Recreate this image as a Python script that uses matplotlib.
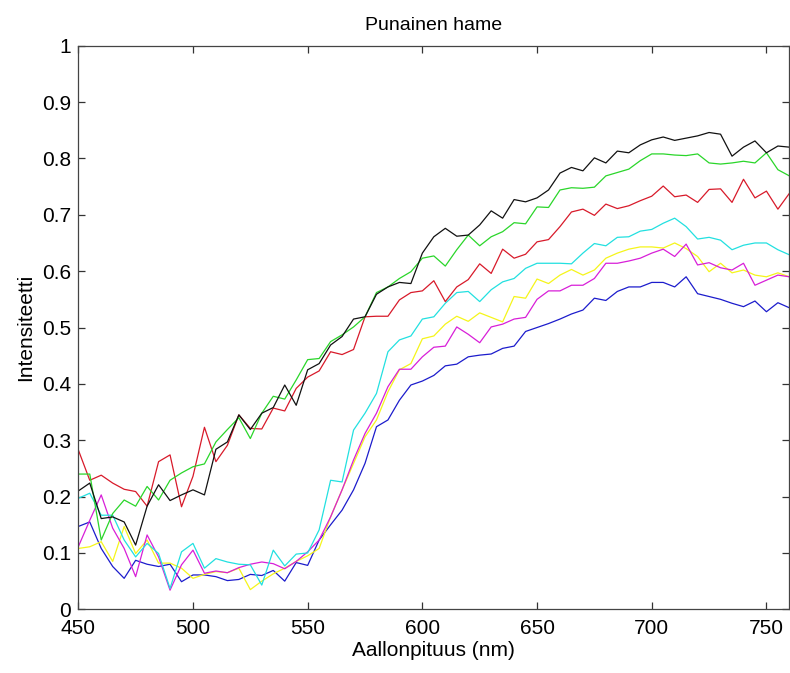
import numpy as np
import matplotlib
matplotlib.use("Agg")
import matplotlib.pyplot as plt

wavelength = list(range(450, 761, 5))

black = [0.21, 0.224, 0.161, 0.164, 0.155, 0.114, 0.183, 0.221, 0.193, 0.203, 0.212, 0.203, 0.284, 0.297, 0.345, 0.319,
         0.348, 0.358, 0.398, 0.362, 0.425, 0.436, 0.469, 0.484, 0.515, 0.519, 0.559, 0.572, 0.58, 0.578, 0.632, 0.661,
         0.676, 0.662, 0.664, 0.682, 0.707, 0.694, 0.727, 0.723, 0.73, 0.744, 0.774, 0.784, 0.778, 0.801, 0.792, 0.813,
         0.81, 0.824, 0.833, 0.838, 0.832, 0.836, 0.84, 0.846, 0.843, 0.804, 0.82, 0.831, 0.81, 0.822, 0.82]
green = [0.24, 0.24, 0.123, 0.17, 0.194, 0.183, 0.218, 0.194, 0.229, 0.242, 0.253, 0.258, 0.297, 0.319, 0.34, 0.303,
         0.348, 0.378, 0.373, 0.407, 0.443, 0.445, 0.475, 0.487, 0.501, 0.519, 0.562, 0.572, 0.587, 0.599, 0.623, 0.627,
         0.609, 0.638, 0.664, 0.645, 0.661, 0.67, 0.686, 0.684, 0.714, 0.713, 0.744, 0.748, 0.747, 0.749, 0.769, 0.775,
         0.781, 0.796, 0.808, 0.808, 0.806, 0.805, 0.808, 0.792, 0.79, 0.792, 0.795, 0.792, 0.81, 0.78, 0.769]
red = [0.283, 0.229, 0.238, 0.224, 0.213, 0.209, 0.183, 0.262, 0.274, 0.182, 0.236, 0.323, 0.262, 0.291, 0.345, 0.321,
       0.32, 0.357, 0.352, 0.392, 0.412, 0.423, 0.457, 0.452, 0.461, 0.519, 0.52, 0.52, 0.549, 0.562, 0.565, 0.583,
       0.546, 0.572, 0.585, 0.613, 0.596, 0.639, 0.623, 0.63, 0.652, 0.656, 0.679, 0.705, 0.71, 0.699, 0.719, 0.711,
       0.716, 0.725, 0.733, 0.751, 0.732, 0.735, 0.722, 0.745, 0.746, 0.722, 0.763, 0.73, 0.742, 0.71, 0.738]
cyan = [0.197, 0.206, 0.167, 0.167, 0.123, 0.093, 0.117, 0.099, 0.037, 0.102, 0.117, 0.073, 0.09, 0.084, 0.08, 0.079,
        0.043, 0.105, 0.077, 0.098, 0.1, 0.141, 0.229, 0.226, 0.318, 0.348, 0.383, 0.457, 0.478, 0.485, 0.515, 0.519,
        0.543, 0.562, 0.564, 0.546, 0.567, 0.581, 0.587, 0.605, 0.614, 0.614, 0.614, 0.613, 0.632, 0.649, 0.645, 0.66,
        0.661, 0.671, 0.674, 0.685, 0.694, 0.679, 0.657, 0.66, 0.655, 0.638, 0.646, 0.65, 0.65, 0.638, 0.629]
yellow = [0.108, 0.111, 0.12, 0.085, 0.147, 0.099, 0.123, 0.082, 0.082, 0.073, 0.055, 0.062, 0.067, 0.065, 0.073, 0.035,
          0.05, 0.063, 0.073, 0.085, 0.095, 0.108, 0.164, 0.212, 0.259, 0.306, 0.336, 0.386, 0.425, 0.436, 0.48, 0.485,
          0.506, 0.52, 0.511, 0.526, 0.518, 0.51, 0.555, 0.552, 0.586, 0.578, 0.593, 0.603, 0.593, 0.602, 0.623, 0.632,
          0.639, 0.643, 0.643, 0.641, 0.65, 0.64, 0.626, 0.599, 0.614, 0.597, 0.602, 0.593, 0.59, 0.597, 0.59]
magenta = [0.111, 0.158, 0.203, 0.144, 0.108, 0.058, 0.132, 0.093, 0.034, 0.079, 0.105, 0.064, 0.068, 0.065, 0.074, 0.08,
           0.084, 0.081, 0.072, 0.085, 0.102, 0.123, 0.164, 0.212, 0.265, 0.312, 0.348, 0.395, 0.426, 0.426, 0.448, 0.465,
           0.467, 0.501, 0.488, 0.473, 0.501, 0.506, 0.515, 0.518, 0.55, 0.565, 0.565, 0.575, 0.575, 0.587, 0.614, 0.614,
           0.618, 0.623, 0.632, 0.639, 0.626, 0.648, 0.611, 0.615, 0.606, 0.602, 0.614, 0.575, 0.584, 0.593, 0.59]
blue = [0.147, 0.155, 0.108, 0.076, 0.055, 0.087, 0.08, 0.076, 0.08, 0.049, 0.061, 0.061, 0.058, 0.051, 0.053, 0.062,
        0.06, 0.069, 0.05, 0.083, 0.078, 0.123, 0.15, 0.176, 0.212, 0.259, 0.324, 0.336, 0.371, 0.398, 0.405, 0.415,
        0.432, 0.435, 0.448, 0.451, 0.453, 0.463, 0.467, 0.493, 0.5, 0.507, 0.515, 0.524, 0.531, 0.552, 0.548, 0.564,
        0.572, 0.572, 0.58, 0.58, 0.572, 0.59, 0.56, 0.555, 0.55, 0.543, 0.537, 0.547, 0.528, 0.544, 0.535]

x_ticks = [450, 500, 550, 600, 650, 700, 750]
y_ticks = [0, 0.1, 0.2, 0.3, 0.4, 0.5, 0.6, 0.7, 0.8, 0.9, 1]
y_ticklabels = ["0", "0.1", "0.2", "0.3", "0.4", "0.5", "0.6", "0.7", "0.8", "0.9", "1"]

plt.rcParams['font.family'] = ['Liberation Sans', 'DejaVu Sans']

fig = plt.figure(figsize=(7.9, 6.73), dpi=100)
ax = fig.add_axes([0.0991, 0.0946, 0.9001, 0.8375])

series = [
    (blue, '#1c1ccc'),
    (yellow, '#f5f51a'),
    (magenta, '#d81fd8'),
    (cyan, '#22e0e0'),
    (red, '#d81a2a'),
    (green, '#2ad62a'),
    (black, '#111111'),
]
for vals, col in series:
    ax.plot(wavelength, vals, color=col, linewidth=0.9)

ax.set_xlim(450, 760)
ax.set_ylim(0, 1)
ax.set_xticks(x_ticks)
ax.set_yticks(y_ticks)
ax.set_yticklabels(y_ticklabels)
ax.tick_params(direction='in', length=5, width=0.9, top=True, right=True,
               labelsize=15, colors='#333333', labelcolor='black')
ax.tick_params(axis='y', pad=5)
ax.tick_params(axis='x', pad=7)
for sp in ax.spines.values():
    sp.set_color('#444444')
    sp.set_linewidth(0.9)

ax.set_xlabel('Aallonpituus (nm)', fontsize=15, labelpad=2)
ax.set_ylabel('Intensiteetti', fontsize=15, labelpad=5)
ax.set_title('Punainen hame', fontsize=14, pad=11)

fig.savefig('out.png', dpi=100)
